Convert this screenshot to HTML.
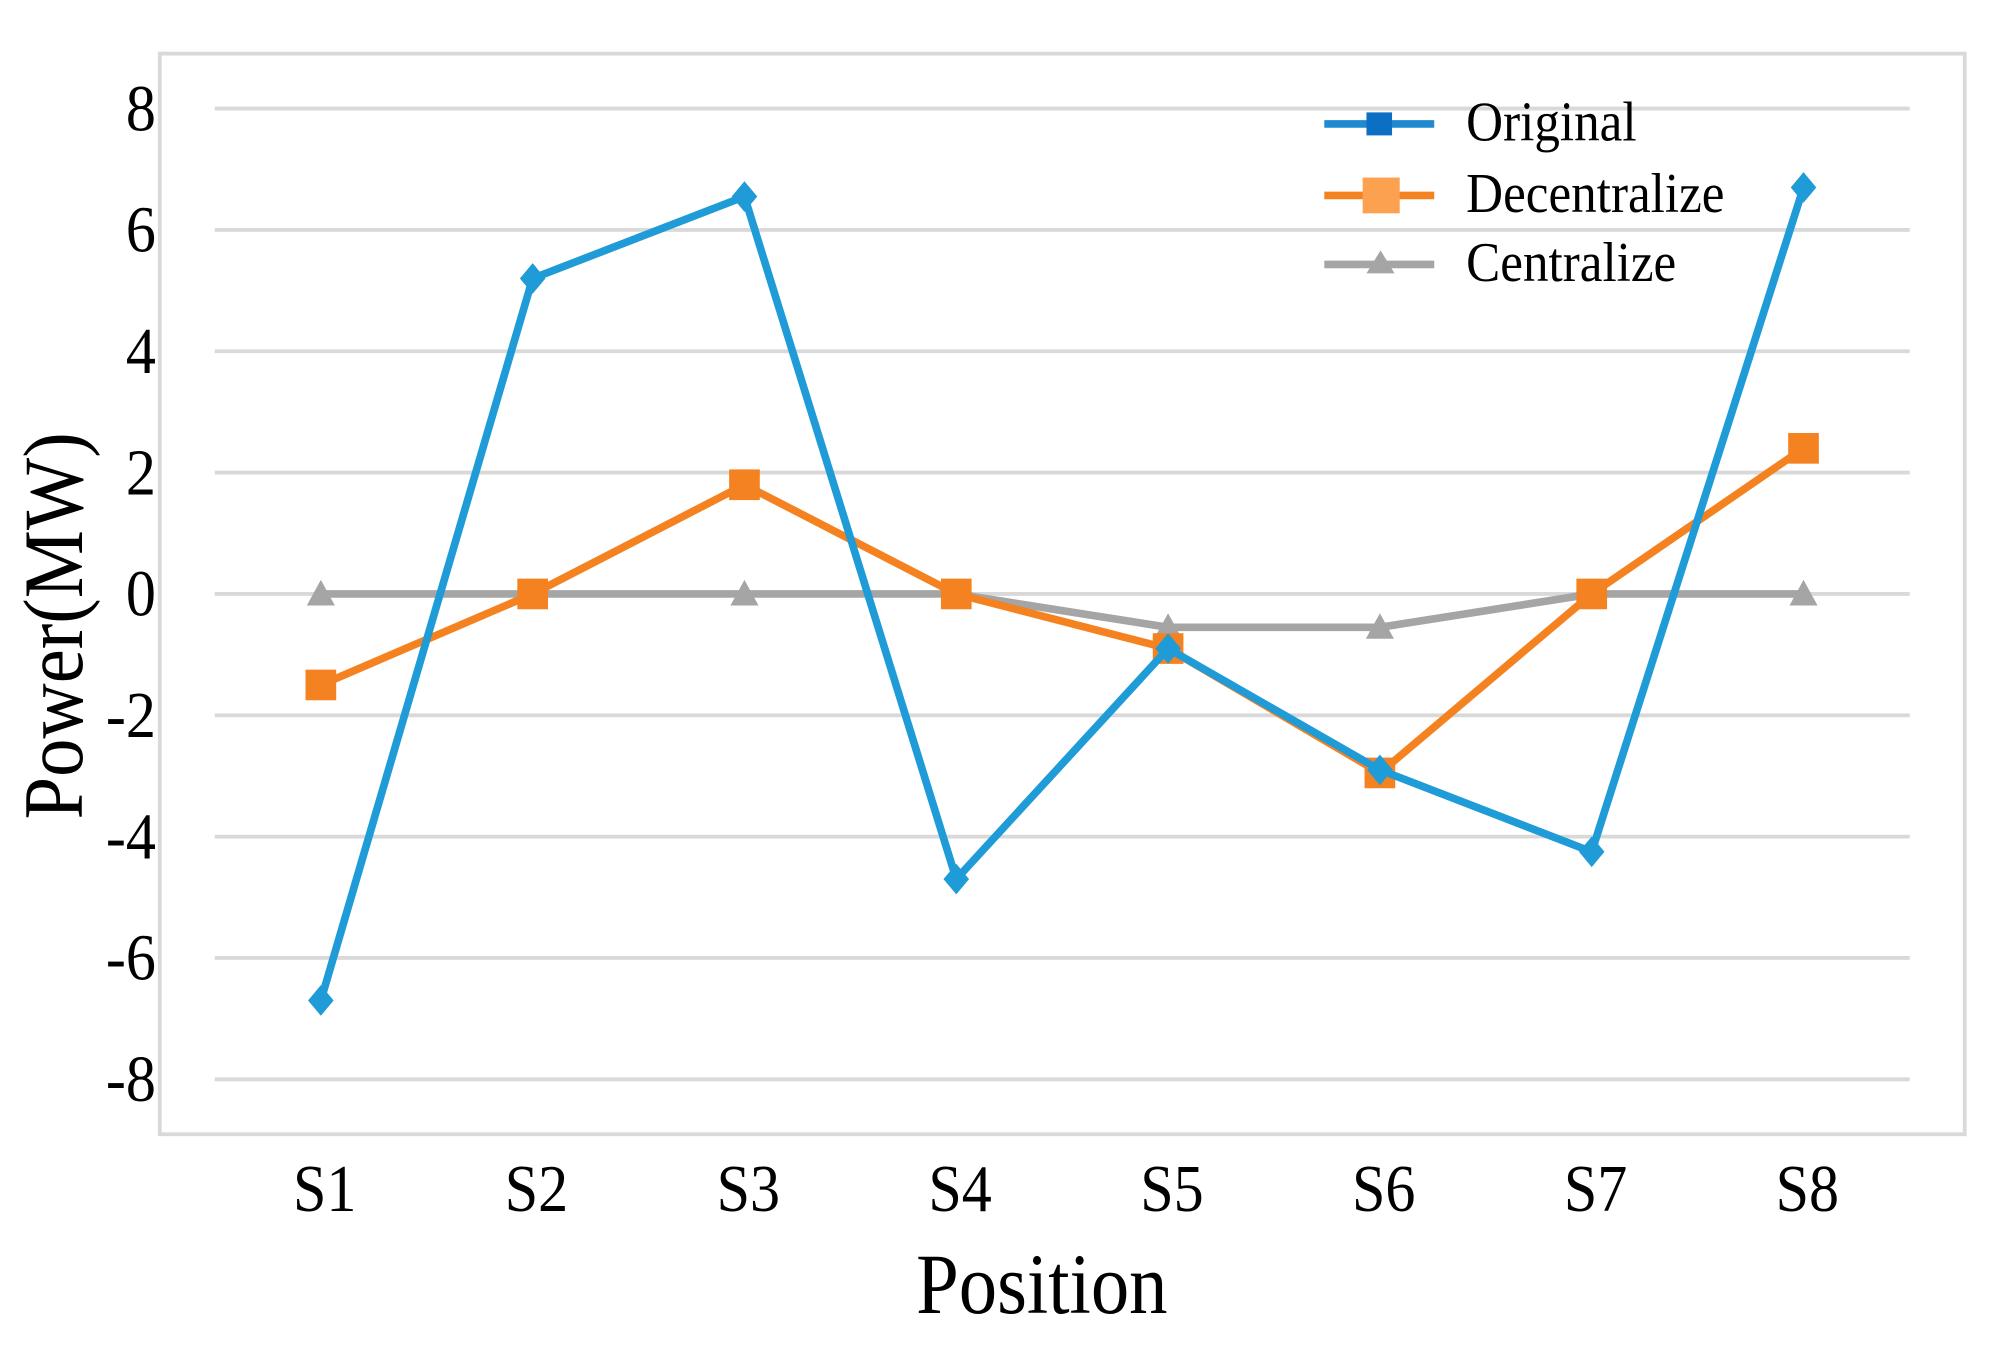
<!DOCTYPE html>
<html><head><meta charset="utf-8"><style>
html,body{margin:0;padding:0;background:#fff;}
svg{display:block;font-family:"Liberation Serif",serif;}
</style></head><body>
<svg id="chart" width="1989" height="1345" viewBox="0 0 1556 1053" preserveAspectRatio="none" xmlns="http://www.w3.org/2000/svg">
<rect x="125" y="42" width="1412" height="846" fill="#fff" stroke="#d9d9d9" stroke-width="3"/>
<g id="grid"></g><g id="series"></g><g id="ticks"></g>
<text transform="translate(64,490) rotate(-90) scale(1,1.1)" text-anchor="middle" font-size="60">Power(MW)</text>
<text transform="translate(815,1028) scale(1,1.12)" text-anchor="middle" font-size="60">Position</text>
<g id="legend"></g>
</svg>
<script>
const categories=["S1","S2","S3","S4","S5","S6","S7","S8"];
const original=[-6.7,5.2,6.55,-4.7,-0.9,-2.9,-4.25,6.7];
const decentralize=[-1.5,0,1.8,0,-0.9,-2.95,0,2.4];
const centralize=[0,0,0,0,-0.55,-0.55,0,0];
const yTicks=[8,6,4,2,0,-2,-4,-6,-8];
const NS="http://www.w3.org/2000/svg";
const xs=i=>251+i*165.7;
const ys=v=>465-v*47.5;
function mk(tag,attrs,parent){const e=document.createElementNS(NS,tag);for(const k in attrs)e.setAttribute(k,attrs[k]);parent.appendChild(e);return e;}
const grid=document.getElementById('grid'),ticks=document.getElementById('ticks'),ser=document.getElementById('series'),leg=document.getElementById('legend');
yTicks.forEach(t=>{
  const l=mk('line',{x1:168,x2:1494,y1:ys(t),y2:ys(t),stroke:'#d9d9d9','stroke-width':3},grid);
  
  
  const tx=mk('text',{transform:`translate(122,${ys(t)+17}) scale(1,1.1)`,'text-anchor':'end','font-size':47},ticks);
  tx.textContent=t;
  
  
});
categories.forEach((c,i)=>{
  const tx=mk('text',{transform:`translate(${xs(i)+3},948) scale(1,1.12)`,'text-anchor':'middle','font-size':47},ticks);
  tx.textContent=c;
  
  
});
function marker(type,x,y,color,g){
  let m;
  if(type==='diamond')m=mk('polygon',{points:`${x},${y-12} ${x+10},${y} ${x},${y+12} ${x-10},${y}`,fill:color},g);
  else if(type==='square')m=mk('rect',{x:x-12,y:y-12,width:24,height:24,fill:color},g);
  else m=mk('polygon',{points:`${x},${y-11} ${x+11},${y+9} ${x-11},${y+9}`,fill:color},g);
  
  
}
const defs=[["Centralize",centralize,'#a5a5a5','triangle'],["Decentralize",decentralize,'#f58220','square'],["Original",original,'#1f9bd7','diamond']];
defs.forEach(([name,vals,col,mt])=>{
  const g=mk('g',{},ser);
  
  
  const p=mk('polyline',{points:vals.map((v,i)=>xs(i)+','+ys(v)).join(' '),fill:'none',stroke:col,'stroke-width':6,'stroke-linejoin':'round'},g);
  
  
  vals.forEach((v,i)=>marker(mt,xs(i),ys(v),col,g));
});
[["Original",'#1f8ad0','#0b6fc4',97],["Decentralize",'#f58220','#fba150',153],["Centralize",'#a5a5a5','#a5a5a5',207]].forEach(([n,lc,mc,y])=>{
  const g=mk('g',{},leg);
  
  
  mk('line',{x1:1036,x2:1122,y1:y,y2:y,stroke:lc,'stroke-width':6},g);
  if(n==='Original')mk('rect',{x:1069,y:y-9,width:20,height:18,fill:mc},g);
  else if(n==='Decentralize')mk('rect',{x:1066,y:y-14,width:29,height:28,fill:mc},g);
  else mk('polygon',{points:`1080,${y-11} 1091,${y+7} 1069,${y+7}`,fill:mc},g);
  const t=mk('text',{transform:`translate(1147,${y+13}) scale(1,1.1)`,'font-size':40},g);
  t.textContent=n;
});
</script>
</body></html>
